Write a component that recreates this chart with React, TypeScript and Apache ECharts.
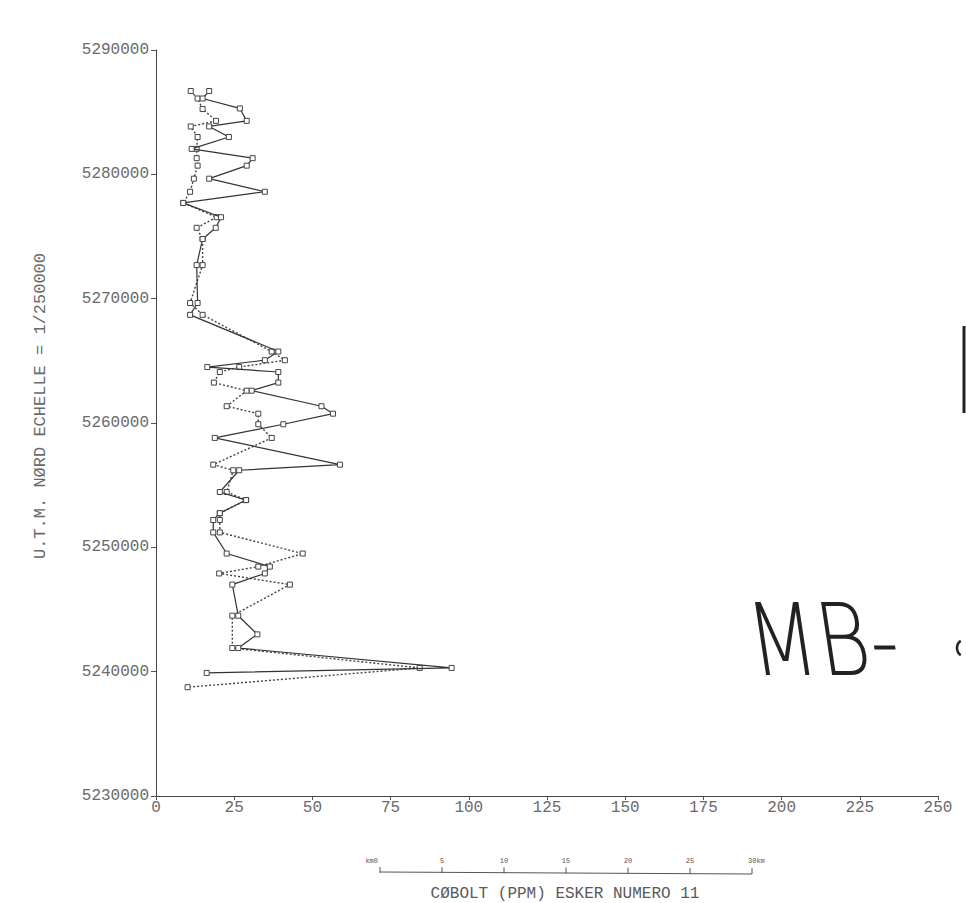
import React, { useEffect, useRef } from "react";
import * as echarts from "echarts";

// Cobalt (ppm) — solid series
const solidCobalt = [17.0, 14.9, 26.8, 29.0, 17.0, 23.3, 11.4, 30.9, 29.0, 17.0, 34.8, 8.7, 20.8, 19.1, 14.9, 13.0, 13.3, 10.9, 39.1, 34.8, 16.4, 39.1, 39.1, 30.6, 52.9, 56.6, 40.7, 18.8, 58.8, 26.6, 20.4, 28.8, 20.4, 18.3, 18.3, 22.6, 36.4, 34.8, 24.4, 26.3, 32.4, 26.3, 94.5, 16.2];
const solidNorthing = [5286700, 5286100, 5285300, 5284300, 5283850, 5283000, 5282050, 5281300, 5280700, 5279650, 5278600, 5277700, 5276550, 5275700, 5274800, 5272700, 5269650, 5268700, 5265750, 5265050, 5264500, 5264100, 5263250, 5262600, 5261350, 5260750, 5259900, 5258800, 5256650, 5256200, 5254450, 5253800, 5252750, 5252200, 5251200, 5249500, 5248450, 5247900, 5247000, 5244500, 5243000, 5241900, 5240300, 5239900];

// Cobalt (ppm) — dotted series
const dottedCobalt = [11.1, 13.3, 14.9, 19.2, 11.1, 13.3, 13.0, 13.0, 13.3, 12.1, 10.9, 8.7, 19.4, 13.0, 14.9, 14.9, 10.9, 14.9, 37.0, 41.2, 26.6, 20.4, 18.5, 29.0, 22.6, 32.7, 32.7, 37.0, 18.3, 24.7, 22.6, 28.8, 20.4, 20.4, 20.4, 46.9, 32.7, 20.2, 42.8, 24.4, 24.4, 84.3, 10.1];
const dottedNorthing = [5286700, 5286100, 5285250, 5284300, 5283850, 5283000, 5282050, 5281300, 5280700, 5279650, 5278600, 5277700, 5276550, 5275700, 5274800, 5272700, 5269650, 5268700, 5265750, 5265050, 5264500, 5264100, 5263250, 5262600, 5261350, 5260750, 5259900, 5258800, 5256650, 5256200, 5254450, 5253800, 5252750, 5252200, 5251200, 5249500, 5248450, 5247900, 5247000, 5244500, 5241900, 5240300, 5238750];

const scaleKm = [0, 5, 10, 15, 20, 25, 30];
const scaleLabels = ["km0", "5", "10", "15", "20", "25", "30km"];

const yAxisTitle = "U.T.M. NØRD ECHELLE = 1/250000";
const xAxisTitle = "CØBOLT (PPM) ESKER NUMERO 11";
const handText = "MB-";

const FONT = "'Liberation Mono', 'DejaVu Sans Mono', monospace";

export default function App() {
  const ref = useRef<HTMLDivElement>(null);
  useEffect(() => {
    if (!ref.current) return;
    const chart = echarts.init(ref.current, null, { renderer: "svg" });
    const solidData = solidCobalt.map((v, i) => [v, solidNorthing[i]]);
    const dottedData = dottedCobalt.map((v, i) => [v, dottedNorthing[i]]);

    const barX0 = 380;
    const barStep = 62;
    const barY = 873;
    const graphic: any[] = [];
    graphic.push({
      type: "text",
      x: 40,
      y: 406,
      rotation: Math.PI / 2,
      style: { text: yAxisTitle, font: `17px ${FONT}`, fill: "#6a6a6a", align: "center", verticalAlign: "middle" },
    });
    graphic.push({
      type: "text",
      x: 565,
      y: 902,
      style: { text: xAxisTitle, font: `16px ${FONT}`, fill: "#5a5a5a", align: "center", verticalAlign: "bottom" },
    });
    graphic.push({
      type: "polyline",
      shape: { points: [[barX0, barY - 1], [barX0 + barStep * 3, barY], [barX0 + barStep * 6, barY + 1]] },
      style: { stroke: "#555", lineWidth: 1, fill: "none" },
    });
    scaleKm.forEach((km, i) => {
      const x = barX0 + (km / 5) * barStep;
      graphic.push({
        type: "line",
        shape: { x1: x, y1: barY - 6 + i / 6, x2: x, y2: barY + i / 6 },
        style: { stroke: "#555", lineWidth: 1 },
      });
      graphic.push({
        type: "text",
        x: i === 0 ? x - 2 : i === 6 ? x - 4 : x,
        y: barY - 9,
        style: {
          text: scaleLabels[i],
          font: `7px ${FONT}`,
          fill: "#555",
          align: i === 0 ? "right" : i === 6 ? "left" : "center",
          verticalAlign: "bottom",
        },
      });
    });
    graphic.push({
      type: "text",
      x: 748,
      y: 640,
      scaleX: 0.8,
      skewX: 0.15,
      style: { text: handText, font: `200 100px 'DejaVu Sans', sans-serif`, fill: "#222", verticalAlign: "middle" },
    });
    graphic.push({
      type: "arc",
      shape: { cx: 966, cy: 648, r: 9, startAngle: Math.PI * 0.7, endAngle: Math.PI * 1.3 },
      style: { stroke: "#222", lineWidth: 2.5, fill: "none" },
    });
    graphic.push({
      type: "line",
      shape: { x1: 964, y1: 326, x2: 964, y2: 413 },
      style: { stroke: "#222", lineWidth: 3 },
    });

    chart.setOption({
      animation: false,
      backgroundColor: "#ffffff",
      grid: { left: 156, right: 28, top: 50, bottom: 107, containLabel: false },
      xAxis: {
        type: "value",
        min: 0,
        max: 250,
        interval: 25,
        axisLine: { show: true, lineStyle: { color: "#444", width: 1 } },
        axisTick: { show: true, length: 4, lineStyle: { color: "#555" } },
        splitLine: { show: false },
        axisLabel: { margin: 4, color: "#6a6a6a", fontFamily: FONT, fontSize: 16 },
      },
      yAxis: {
        type: "value",
        min: 5230000,
        max: 5290000,
        interval: 10000,
        axisLine: { show: true, lineStyle: { color: "#444", width: 1 } },
        axisTick: { show: true, length: 5, lineStyle: { color: "#555" } },
        splitLine: { show: false },
        axisLabel: { margin: 7, color: "#6a6a6a", fontFamily: FONT, fontSize: 16, formatter: (v: number) => String(v) },
      },
      graphic,
      series: [
        {
          type: "line",
          name: "solid",
          data: solidData,
          symbol: "rect",
          symbolSize: 5,
          showSymbol: true,
          lineStyle: { color: "#333", width: 1.2, type: "solid" },
          itemStyle: { color: "#fff", borderColor: "#444", borderWidth: 1 },
          z: 3,
        },
        {
          type: "line",
          name: "dotted",
          data: dottedData,
          symbol: "rect",
          symbolSize: 5,
          showSymbol: true,
          lineStyle: { color: "#444", width: 1.4, type: [2, 2] },
          itemStyle: { color: "#fff", borderColor: "#444", borderWidth: 1 },
          z: 2,
        },
      ],
    });
    return () => chart.dispose();
  }, []);
  return <div ref={ref} style={{ position: "absolute", left: 0, top: 0, width: 966, height: 903 }} />;
}
